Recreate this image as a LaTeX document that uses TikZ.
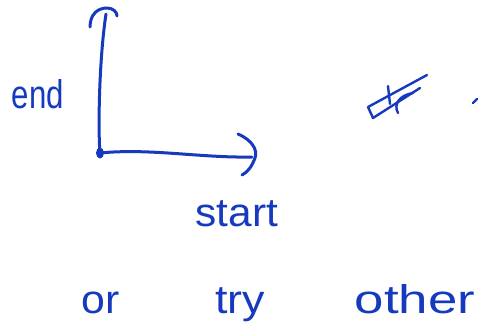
\documentclass[tikz,border=0pt]{standalone}
\usepackage{fontspec}
\setmainfont{Liberation Sans}
\definecolor{pen}{RGB}{22,58,190}
\begin{document}
\begin{tikzpicture}[x=1pt,y=-1pt,
  ink/.style={draw=pen,line width=3pt,line cap=round,line join=round},
  word/.style={text=pen,anchor=base,inner sep=0pt,font=\fontsize{40}{44}\selectfont,transform shape}]
\useasboundingbox[fill=white] (0,0) rectangle (481,333);
% axis points
\coordinate (o) at (100,153);
\coordinate (top) at (106,14);
\coordinate (right) at (252,157);
% axes
\draw[ink] (o) .. controls (98,130) and (99,60) .. (top);
\draw[ink] (o) .. controls (150,148) and (200,158) .. (right);
\fill[pen] (o) ellipse (4pt and 5.5pt);
% arrow heads (hand drawn)
\draw[ink] (90,27) .. controls (90,14) and (98,8) .. (107,8) .. controls (113,8) and (117,12) .. (117,16);
\draw[ink] (238,134) .. controls (252,140) and (258,150) .. (255,158) .. controls (252,166) and (248,172) .. (242,175);
% labels
\node[word,xscale=0.78] (endlbl) at (38,108) {end};
\node[word,xscale=1.06] (startlbl) at (237,226) {start};
\node[word,xscale=1.07] (orlbl) at (101,313) {or};
\node[word,xscale=1.12] (trylbl) at (240,313) {try};
\node[word,xscale=1.32] (otherlbl) at (415,313) {other};
% scribble (crossed out)
\draw[ink,line width=2.4pt] (427,75) -- (368,107) -- (373,118) -- (420,88);
\draw[ink,line width=2.4pt] (388,86) -- (390,104);
\draw[ink,line width=2.4pt] (413,93) .. controls (400,95) and (393,104) .. (398,113);
\draw[ink,line width=2.4pt] (477,99) -- (473,103);
\end{tikzpicture}
\end{document}
